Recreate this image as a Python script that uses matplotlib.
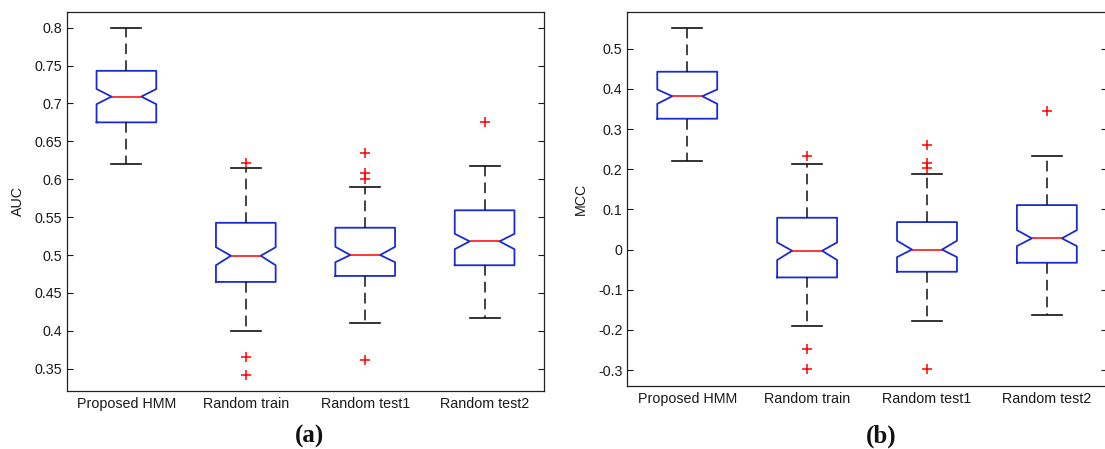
import matplotlib
matplotlib.use("Agg")
import matplotlib.pyplot as plt

plt.rcParams['font.family'] = ['Liberation Sans', 'DejaVu Sans']

categories = ["Proposed HMM", "Random train", "Random test1", "Random test2"]

# Panel (a): AUC
auc_med = [0.709, 0.499, 0.500, 0.518]
auc_q1 = [0.675, 0.4645, 0.4724, 0.4865]
auc_q3 = [0.743, 0.5425, 0.536, 0.559]
auc_cilo = [0.699, 0.4865, 0.4905, 0.5077]
auc_cihi = [0.719, 0.5103, 0.5108, 0.528]
auc_whislo = [0.620, 0.3996, 0.4107, 0.4173]
auc_whishi = [0.800, 0.6153, 0.590, 0.618]
auc_fliers = [[], [0.621, 0.366, 0.342], [0.6347, 0.6078, 0.6003, 0.3613], [0.675]]
auc_yticks = [0.35, 0.4, 0.45, 0.5, 0.55, 0.6, 0.65, 0.7, 0.75, 0.8]
auc_yticklabels = ["0.35", "0.4", "0.45", "0.5", "0.55", "0.6", "0.65", "0.7", "0.75", "0.8"]

# Panel (b): MCC
mcc_med = [0.382, -0.003, 0.000, 0.028]
mcc_q1 = [0.326, -0.0693, -0.0552, -0.0328]
mcc_q3 = [0.443, 0.0793, 0.0685, 0.1108]
mcc_cilo = [0.363, -0.026, -0.0187, 0.0087]
mcc_cihi = [0.3988, 0.0178, 0.022, 0.0485]
mcc_whislo = [0.2195, -0.1905, -0.1788, -0.1631]
mcc_whishi = [0.551, 0.2137, 0.188, 0.234]
mcc_fliers = [[], [0.234, -0.2477, -0.2967], [0.2593, 0.2145, 0.2037, -0.2967], [0.3456]]
mcc_yticks = [-0.3, -0.2, -0.1, 0, 0.1, 0.2, 0.3, 0.4, 0.5]
mcc_yticklabels = ["-0.3", "-0.2", "-0.1", "0", "0.1", "0.2", "0.3", "0.4", "0.5"]

W, H = 1105, 449
fig = plt.figure(figsize=(W / 100, H / 100), dpi=100)

BLUE = '#1a2bd4'
TXT = '#1a1a1a'
FS = 10.3


def make_stats(med, q1, q3, cilo, cihi, wlo, whi, fl):
    out = []
    for i in range(len(med)):
        out.append(dict(med=med[i], q1=q1[i], q3=q3[i], cilo=cilo[i], cihi=cihi[i],
                        whislo=wlo[i], whishi=whi[i], fliers=fl[i], label=categories[i]))
    return out


def draw(ax, stats, ylim, yticks, yticklabels, ylabel):
    ax.bxp(stats, positions=range(1, len(stats) + 1), widths=0.5, shownotches=True,
           boxprops=dict(color=BLUE, linewidth=1.3),
           medianprops=dict(color='#ff0000', linewidth=1.1),
           whiskerprops=dict(color='#111111', linewidth=1.1, linestyle=(0, (7, 4))),
           capprops=dict(color='#111111', linewidth=1.2),
           flierprops=dict(marker='+', markeredgecolor='#ff0000', markersize=7,
                           markeredgewidth=1.1, linestyle='none'))
    ax.set_xlim(0.5, len(stats) + 0.5)
    ax.set_ylim(*ylim)
    ax.set_yticks(yticks)
    ax.set_yticklabels(yticklabels, fontsize=FS, color=TXT)
    ax.set_xticks(range(1, len(stats) + 1))
    ax.set_xticklabels(categories, fontsize=FS, color=TXT)
    ax.tick_params(axis='y', direction='in', length=4, width=0.8, pad=3.5,
                   left=True, right=True, colors=TXT)
    ax.tick_params(axis='x', length=0, pad=4.5)
    for sp in ax.spines.values():
        sp.set_linewidth(0.9)
        sp.set_color('#222222')
    ax.set_ylabel(ylabel, fontsize=FS, color=TXT)


ax1 = fig.add_axes([66.7 / W, (H - 390.7) / H, 477.6 / W, 379.0 / H])
draw(ax1, make_stats(auc_med, auc_q1, auc_q3, auc_cilo, auc_cihi, auc_whislo, auc_whishi, auc_fliers),
     (0.321, 0.821), auc_yticks, auc_yticklabels, "AUC")
ax1.yaxis.set_label_coords(-0.0884, 0.5)

ax2 = fig.add_axes([627.3 / W, (H - 385.7) / H, 479.5 / W, 373.4 / H])
draw(ax2, make_stats(mcc_med, mcc_q1, mcc_q3, mcc_cilo, mcc_cihi, mcc_whislo, mcc_whishi, mcc_fliers),
     (-0.339, 0.591), mcc_yticks, mcc_yticklabels, "MCC")
ax2.yaxis.set_label_coords(-0.083, 0.5)

fig.text(310 / W, (H - 443) / H, "(a)", family=['Liberation Serif'], fontweight='bold',
         fontsize=18, ha='center', va='baseline', color='#111111')
fig.text(881 / W, (H - 443) / H, "(b)", family=['Liberation Serif'], fontweight='bold',
         fontsize=18, ha='center', va='baseline', color='#111111')

fig.savefig("out.png", dpi=100, facecolor='white')
